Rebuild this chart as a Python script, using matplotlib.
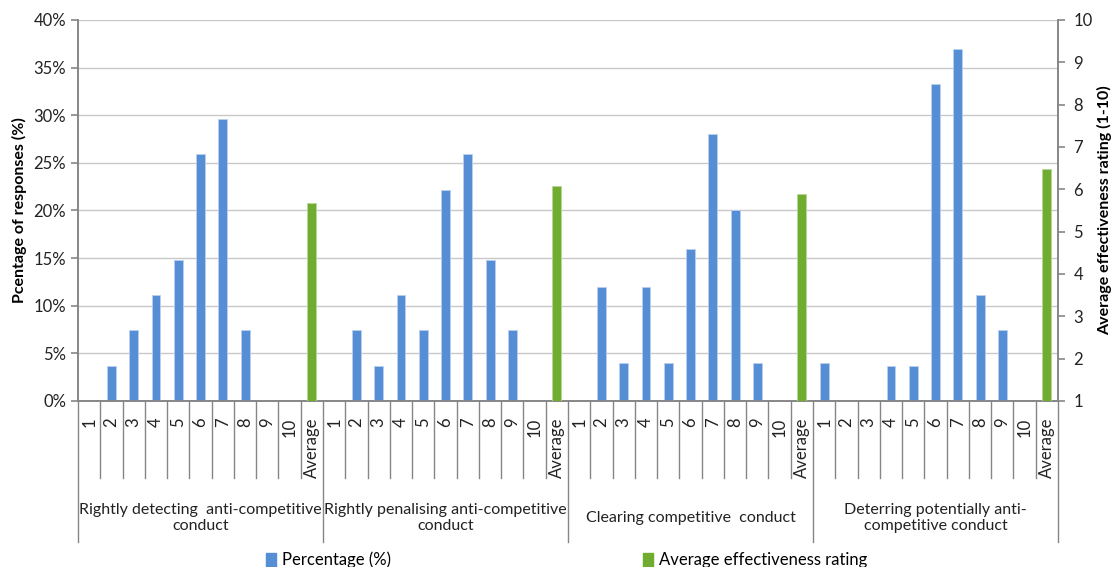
import matplotlib
matplotlib.use("Agg")
import matplotlib.pyplot as plt
from matplotlib.patches import Patch
from matplotlib.ticker import PercentFormatter

plt.rcParams['font.family'] = ['Lato', 'DejaVu Sans']

# Survey results: share of responses per score (1-10) and average rating per goal
groups = ["Rightly detecting  anti-competitive\nconduct",
          "Rightly penalising anti-competitive\nconduct",
          "Clearing competitive  conduct",
          "Deterring potentially anti-\ncompetitive conduct"]
scores = ["1", "2", "3", "4", "5", "6", "7", "8", "9", "10", "Average"]

pct_detect = [0, 3.7, 7.4, 11.1, 14.8, 25.9, 29.6, 7.4, 0, 0]
pct_penal = [0, 7.4, 3.7, 11.1, 7.4, 22.2, 25.9, 14.8, 7.4, 0]
pct_clear = [0, 12.0, 4.0, 12.0, 4.0, 16.0, 28.0, 20.0, 4.0, 0]
pct_deter = [4.0, 0, 0, 3.7, 3.7, 33.3, 37.0, 11.1, 7.4, 0]
avg_rating = [5.68, 6.08, 5.90, 6.47]

BLUE = "#558ED5"
GREEN = "#6FAC2F"
AXIS = "#868686"

fig = plt.figure(figsize=(11.15, 5.67), dpi=100)
ax = fig.add_axes([0.0700, 0.2928, 0.8789, 0.6720])
ax2 = ax.twinx()

n = len(scores)
all_pct = [pct_detect, pct_penal, pct_clear, pct_deter]
for g, pct in enumerate(all_pct):
    xs = [g * n + i for i in range(len(pct))]
    ax.bar(xs, pct, width=0.4, color=BLUE, edgecolor="#B9CFEE", linewidth=0.6, zorder=3)
    ax2.bar(g * n + n - 1, avg_rating[g], width=0.4, color=GREEN,
            edgecolor="#B7D696", linewidth=0.6, zorder=3)

ax.set_xlim(-0.5, len(groups) * n - 0.5)
ax.set_ylim(0, 40)
ax.set_yticks(range(0, 41, 5))
ax.yaxis.set_major_formatter(PercentFormatter(decimals=0))
ax2.set_ylim(1, 10)
ax2.set_yticks(range(1, 11))

ax.grid(axis="y", color="#C8C8C8", linewidth=1.0, zorder=0)
ax.set_axisbelow(True)
ax.set_xticks([])

for a in (ax, ax2):
    a.spines["top"].set_visible(False)
    for s in ("left", "right", "bottom"):
        a.spines[s].set_color(AXIS)
        a.spines[s].set_linewidth(1.2)
    a.tick_params(axis="y", length=5, width=1.2, color=AXIS, labelsize=12,
                  labelcolor="#222222")
ax2.tick_params(axis="y", pad=6)

ax.set_ylabel("Pcentage of responses (%)", fontsize=11.5, fontweight="bold", labelpad=5)
ax2.set_ylabel("Average effectiveness rating (1-10)", fontsize=11.5, fontweight="bold",
               labelpad=3)

# two-level category axis under the plot
tr = ax.get_xaxis_transform()
inner_bottom = -0.202
outer_bottom = -0.369
for k in range(len(groups) * n + 1):
    bottom = outer_bottom if k % n == 0 else inner_bottom
    ax.plot([k - 0.5, k - 0.5], [0, bottom], transform=tr, color=AXIS,
            linewidth=1.0, clip_on=False)
for g, name in enumerate(groups):
    for i, lab in enumerate(scores):
        ax.text(g * n + i, -0.043, lab, transform=tr, rotation=90,
                ha="center", va="top", fontsize=12, color="#222222")
    ax.text(g * n + (n - 1) / 2, -0.307, name, transform=tr, ha="center",
            va="center", fontsize=11.5, color="#222222", linespacing=1.25)

handles = [Patch(color=BLUE, label="Percentage (%)"),
           Patch(color=GREEN, label="Average effectiveness rating")]
fig.legend(handles=handles, ncol=2, loc="center", bbox_to_anchor=(0.508, 0.012),
           frameon=False, fontsize=12, handlelength=0.6, handleheight=0.9,
           handletextpad=0.35, columnspacing=15.15)

fig.savefig("out.png", dpi=100)
